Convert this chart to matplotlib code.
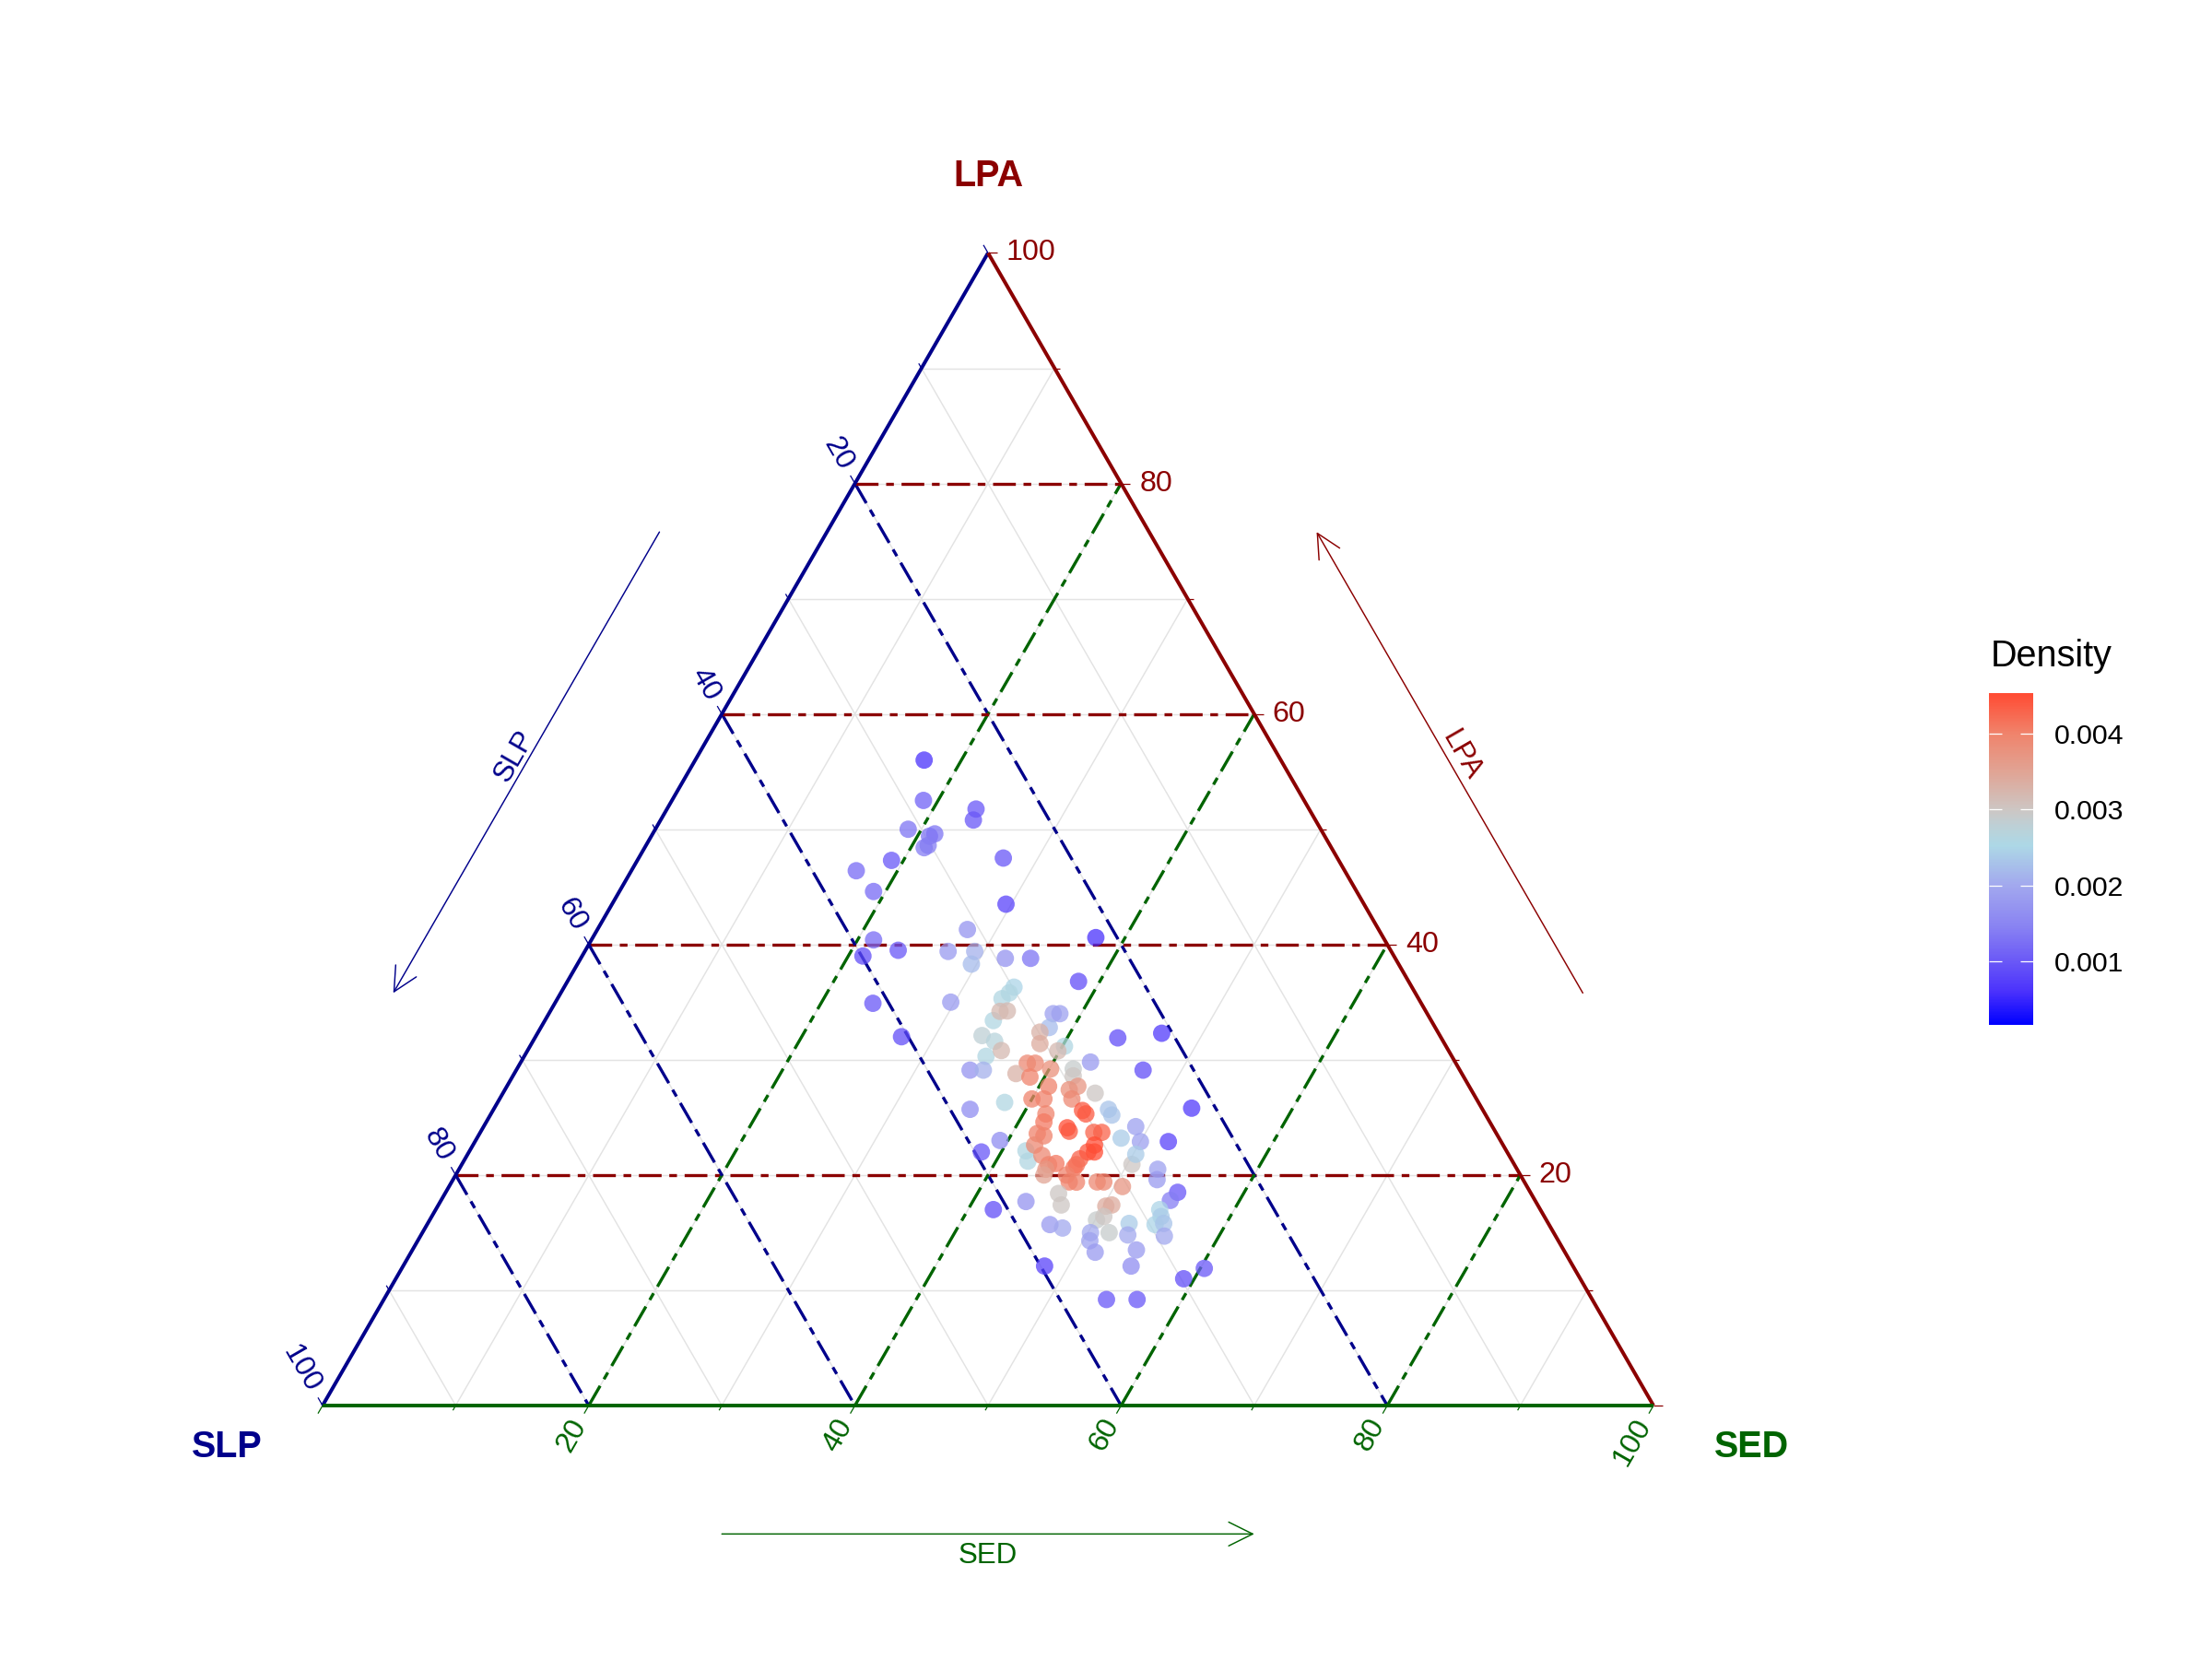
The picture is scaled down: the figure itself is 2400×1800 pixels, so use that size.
import numpy as np
import matplotlib
matplotlib.use("Agg")
import matplotlib.pyplot as plt
from matplotlib.colors import LinearSegmentedColormap, Normalize
from matplotlib.cm import ScalarMappable
from matplotlib.patches import FancyArrowPatch

plt.rcParams['font.family'] = ['Liberation Sans', 'DejaVu Sans']

# compositions (%)
slp = [26.8, 28.6, 25.0, 25.7, 31.0, 29.2, 29.7, 30.2, 30.6, 33.6,
       25.1, 36.7, 36.3, 26.9, 30.9, 38.4, 39.9, 37.0, 33.3, 31.3,
       32.1, 29.3, 27.4, 24.8, 29.9, 30.5, 21.6, 41.2, 35.3, 32.9,
       40.5, 34.4, 33.7, 35.0, 36.8, 35.8, 38.5, 39.5, 41.1, 31.3,
       32.0, 31.4, 28.1, 27.6, 29.0, 24.3, 20.8, 28.7, 29.9, 30.4,
       29.4, 33.6, 27.4, 23.8, 32.2, 31.6, 30.7, 33.5, 32.6, 29.0,
       29.3, 31.6, 30.2, 29.4, 28.4, 33.4, 32.5, 30.4, 35.6, 21.8,
       28.1, 28.1, 30.1, 30.0, 33.0, 33.5, 26.8, 32.0, 32.0, 30.2,
       29.6, 28.4, 27.1, 25.0, 34.5, 34.1, 37.6, 36.1, 36.4, 35.2,
       35.1, 34.4, 35.0, 32.4, 31.5, 30.7, 31.0, 33.2, 32.9, 28.7,
       28.0, 35.4, 35.8, 34.1, 34.2, 33.7, 32.1, 31.6, 30.4, 27.0,
       27.5, 26.5, 27.4, 35.5, 35.8, 38.3, 32.5, 32.0, 33.8, 33.1,
       33.4, 28.6, 28.8, 29.6, 28.9, 29.4, 31.5, 32.1, 37.5, 36.7,
       34.8, 35.2, 35.3, 32.1, 33.2, 39.7, 27.8, 29.8, 36.5, 34.2]
sed = [17.2, 18.9, 23.2, 23.5, 19.0, 21.2, 20.9, 21.2, 21.0, 19.1,
       27.4, 16.9, 19.1, 29.6, 27.8, 21.2, 21.1, 23.5, 27.3, 29.3,
       29.6, 31.9, 33.8, 38.4, 33.8, 33.7, 37.8, 23.9, 29.7, 33.7,
       27.5, 33.5, 34.7, 34.7, 34.1, 35.1, 35.8, 38.5, 41.9, 33.4,
       33.8, 34.3, 37.9, 38.4, 38.2, 43.8, 46.9, 40.2, 37.7, 38.2,
       39.9, 35.6, 42.8, 47.1, 38.1, 38.7, 40.1, 37.7, 38.9, 41.8,
       42.1, 40.7, 42.4, 42.9, 44.5, 40.0, 40.9, 43.0, 38.1, 52.4,
       46.2, 46.7, 44.3, 44.7, 41.7, 41.9, 49.0, 43.9, 44.2, 46.1,
       46.7, 48.4, 50.0, 52.1, 41.9, 42.5, 39.4, 41.8, 42.4, 42.2,
       43.2, 44.6, 44.1, 46.2, 46.5, 46.7, 47.0, 46.1, 46.2, 50.3,
       50.2, 44.1, 44.2, 45.9, 46.4, 47.0, 48.5, 49.0, 50.6, 52.5,
       52.9, 55.0, 54.8, 46.1, 46.8, 44.0, 50.2, 50.6, 50.1, 50.5,
       51.6, 54.4, 54.8, 54.7, 55.3, 55.9, 52.7, 53.1, 46.8, 47.9,
       50.2, 50.5, 51.4, 54.4, 54.7, 48.2, 60.3, 59.2, 54.3, 56.6]
lpa = [56.0, 52.5, 51.7, 50.8, 50.0, 49.6, 49.4, 48.6, 48.4, 47.3,
       47.5, 46.4, 44.6, 43.5, 41.3, 40.4, 39.0, 39.5, 39.4, 39.4,
       38.3, 38.8, 38.8, 36.8, 36.3, 35.8, 40.6, 34.9, 35.0, 33.4,
       32.0, 32.1, 31.6, 30.3, 29.1, 29.1, 25.7, 22.0, 17.0, 35.3,
       34.2, 34.2, 34.0, 34.0, 32.8, 31.9, 32.3, 31.2, 32.4, 31.4,
       30.8, 30.8, 29.8, 29.1, 29.7, 29.7, 29.2, 28.8, 28.5, 29.2,
       28.6, 27.7, 27.4, 27.7, 27.1, 26.6, 26.6, 26.6, 26.3, 25.8,
       25.7, 25.2, 25.6, 25.3, 25.3, 24.6, 24.2, 24.1, 23.8, 23.7,
       23.7, 23.2, 22.9, 22.9, 23.6, 23.4, 23.0, 22.1, 21.2, 22.6,
       21.7, 21.0, 20.9, 21.4, 22.0, 22.6, 22.0, 20.6, 20.9, 20.9,
       21.8, 20.5, 20.0, 20.0, 19.4, 19.4, 19.4, 19.4, 19.0, 20.5,
       19.6, 18.5, 17.8, 18.4, 17.4, 17.7, 17.3, 17.4, 16.1, 16.4,
       15.0, 17.0, 16.4, 15.7, 15.8, 14.7, 15.8, 14.8, 15.7, 15.4,
       15.0, 14.3, 13.3, 13.5, 12.1, 12.1, 11.9, 11.0, 9.2, 9.2]
density = [0.0006, 0.0011, 0.0010, 0.0010, 0.0013, 0.0013, 0.0013, 0.0014, 0.0014, 0.0010,
           0.0010, 0.0012, 0.0012, 0.0008, 0.0017, 0.0012, 0.0009, 0.0010, 0.0018, 0.0021,
           0.0022, 0.0017, 0.0013, 0.0009, 0.0025, 0.0026, 0.0006, 0.0010, 0.0018, 0.0026,
           0.0009, 0.0028, 0.0027, 0.0026, 0.0017, 0.0021, 0.0016, 0.0010, 0.0009, 0.0026,
           0.0032, 0.0032, 0.0019, 0.0019, 0.0022, 0.0009, 0.0007, 0.0026, 0.0033, 0.0034,
           0.0032, 0.0032, 0.0018, 0.0009, 0.0039, 0.0039, 0.0038, 0.0033, 0.0040, 0.0029,
           0.0030, 0.0040, 0.0038, 0.0037, 0.0030, 0.0040, 0.0040, 0.0039, 0.0026, 0.0007,
           0.0023, 0.0023, 0.0044, 0.0044, 0.0040, 0.0041, 0.0019, 0.0045, 0.0044, 0.0043,
           0.0043, 0.0024, 0.0019, 0.0008, 0.0040, 0.0040, 0.0016, 0.0026, 0.0026, 0.0039,
           0.0039, 0.0041, 0.0040, 0.0043, 0.0044, 0.0045, 0.0045, 0.0041, 0.0042, 0.0030,
           0.0024, 0.0037, 0.0035, 0.0040, 0.0040, 0.0040, 0.0039, 0.0039, 0.0037, 0.0019,
           0.0018, 0.0010, 0.0014, 0.0030, 0.0030, 0.0017, 0.0034, 0.0034, 0.0029, 0.0030,
           0.0029, 0.0025, 0.0024, 0.0025, 0.0023, 0.0020, 0.0024, 0.0020, 0.0018, 0.0020,
           0.0020, 0.0019, 0.0018, 0.0018, 0.0016, 0.0008, 0.0010, 0.0009, 0.0010, 0.0010]

axis_ticks = [20, 40, 60, 80, 100]
dens_ticks = [0.001, 0.002, 0.003, 0.004]
dens_lim = (0.00017, 0.00453)

LPA_COL = '#8B0000'
SLP_COL = '#00008B'
SED_COL = '#006400'
H = np.sqrt(3) / 2
PX = 1 / 1444  # data units per output pixel


def to_xy(a_slp, a_sed, a_lpa):
    a_slp = np.asarray(a_slp, float)
    a_sed = np.asarray(a_sed, float)
    a_lpa = np.asarray(a_lpa, float)
    tot = a_slp + a_sed + a_lpa
    return (a_sed + a_lpa / 2) / tot, a_lpa / tot * H


def seg(p, q, **kw):
    ax.plot([p[0], q[0]], [p[1], q[1]], solid_capstyle='butt', **kw)


cmap = LinearSegmentedColormap.from_list('dens', [
    (0.0, '#0000FF'), (0.1, '#4B32FC'), (0.2, '#6D5CF6'), (0.3, '#8A84F2'),
    (0.42, '#A2A8EE'), (0.541, '#ADD8E6'), (0.6, '#BDD0D6'), (0.65, '#CDC6C3'),
    (0.76, '#E0A596'), (0.88, '#F0836B'), (1.0, '#FF4B33')])
norm = Normalize(*dens_lim)

fig = plt.figure(figsize=(16, 12), dpi=150)
ax = fig.add_axes([0, 0, 1, 1])
ax.set_xlim(-350 * PX, 2050 * PX)
ax.set_ylim(-275 * PX, 1525 * PX)
ax.axis('off')

# light grid every 10
for v in range(10, 100, 10):
    for p, q in [((100 - v, 0, v), (0, 100 - v, v)),
                 ((v, 0, 100 - v), (v, 100 - v, 0)),
                 ((100 - v, v, 0), (0, v, 100 - v))]:
        seg(to_xy(*p), to_xy(*q), color='#E3E3E3', lw=0.7, zorder=1)

# dashed reference lines every 20
dash = (7.4, 2.5, 2.5, 2.5)
for v in [20, 40, 60, 80]:
    ax.plot(*zip(to_xy(100 - v, 0, v), to_xy(0, 100 - v, v)), color=LPA_COL,
            lw=1.6, dashes=dash, zorder=2)
    ax.plot(*zip(to_xy(v, 0, 100 - v), to_xy(v, 100 - v, 0)), color=SLP_COL,
            lw=1.6, dashes=dash, zorder=2)
    ax.plot(*zip(to_xy(100 - v, v, 0), to_xy(0, v, 100 - v)), color=SED_COL,
            lw=1.6, dashes=dash, zorder=2)

# triangle edges
top, bl, br = to_xy(0, 0, 100), to_xy(100, 0, 0), to_xy(0, 100, 0)
seg(bl, top, color=SLP_COL, lw=1.9, zorder=3)
seg(br, top, color=LPA_COL, lw=1.9, zorder=3)
seg(bl, br, color=SED_COL, lw=1.9, zorder=3)

# ticks and tick labels
for v in range(0, 101, 10):
    ln = (10 if v % 20 == 0 else 6) * PX
    for p, d, col in [(to_xy(0, 100 - v, v), (1, 0), LPA_COL),
                      (to_xy(v, 0, 100 - v), (-0.5, H), SLP_COL),
                      (to_xy(100 - v, v, 0), (-0.5, -H), SED_COL)]:
        seg(p, (p[0] + d[0] * ln, p[1] + d[1] * ln), color=col, lw=0.6, zorder=3)
for v in axis_ticks:
    x, y = to_xy(0, 100 - v, v)
    ax.text(x + 20 * PX, y, str(v), color=LPA_COL, fontsize=15.5,
            ha='left', va='center')
    x, y = to_xy(v, 0, 100 - v)
    ax.text(x - 0.5 * 19 * PX, y + H * 19 * PX, str(v), color=SLP_COL, fontsize=15.5,
            ha='right', va='center', rotation=-60, rotation_mode='anchor')
    x, y = to_xy(100 - v, v, 0)
    ax.text(x - 0.5 * 19 * PX, y - H * 19 * PX, str(v), color=SED_COL, fontsize=15.5,
            ha='right', va='center', rotation=60, rotation_mode='anchor')

# points
px, py = to_xy(slp, sed, lpa)
ax.scatter(px, py, c=density, cmap=cmap, norm=norm, s=82, alpha=0.75,
           linewidths=0, zorder=4)

# vertex titles
ax.text(0.5, 0.9238, 'LPA', color=LPA_COL, fontsize=19, fontweight='bold',
        ha='center', va='center')
ax.text(-0.072, -0.0312, 'SLP', color=SLP_COL, fontsize=19, fontweight='bold',
        ha='center', va='center')
ax.text(1.074, -0.0312, 'SED', color=SED_COL, fontsize=19, fontweight='bold',
        ha='center', va='center')


# axis arrows
def arrow(p0, p1, col):
    ax.add_patch(FancyArrowPatch(p0, p1, arrowstyle='->,head_length=1.25,head_width=0.62',
                                 mutation_scale=10, color=col, lw=0.7,
                                 shrinkA=0, shrinkB=0, zorder=3))


arrow((0.3, -0.0965), (0.7, -0.0965), SED_COL)
ax.text(0.5, -0.113, 'SED', color=SED_COL, fontsize=15, ha='center', va='center')


def right_pt(t, n):
    return (1 - 0.5 * t + H * n, H * t + 0.5 * n)


def left_pt(t, n):
    return (0.5 * t - H * n, H * t + 0.5 * n)


arrow(right_pt(0.295, 0.109), right_pt(0.695, 0.109), LPA_COL)
ax.text(*right_pt(0.495, 0.119), 'LPA', color=LPA_COL, fontsize=15,
        ha='center', va='center', rotation=-60)
arrow(left_pt(0.695, 0.109), left_pt(0.295, 0.109), SLP_COL)
ax.text(*left_pt(0.495, 0.119), 'SLP', color=SLP_COL, fontsize=15,
        ha='center', va='center', rotation=60)

# colour bar
cax = fig.add_axes([2158 / 2400, 1 - 1112 / 1800, 48 / 2400, 360 / 1800])
cb = fig.colorbar(ScalarMappable(norm=norm, cmap=cmap), cax=cax, ticks=dens_ticks)
cb.outline.set_visible(False)
cb.ax.tick_params(direction='in', length=6.5, width=0.6, color='white',
                  left=True, right=True, labelsize=14.5, pad=11)
cb.ax.set_yticklabels([f'{t:.3f}' for t in dens_ticks])
fig.text(2160 / 2400, 1 - 723 / 1800, 'Density', fontsize=19, ha='left', va='baseline')

fig.savefig('out.png', dpi=150)
